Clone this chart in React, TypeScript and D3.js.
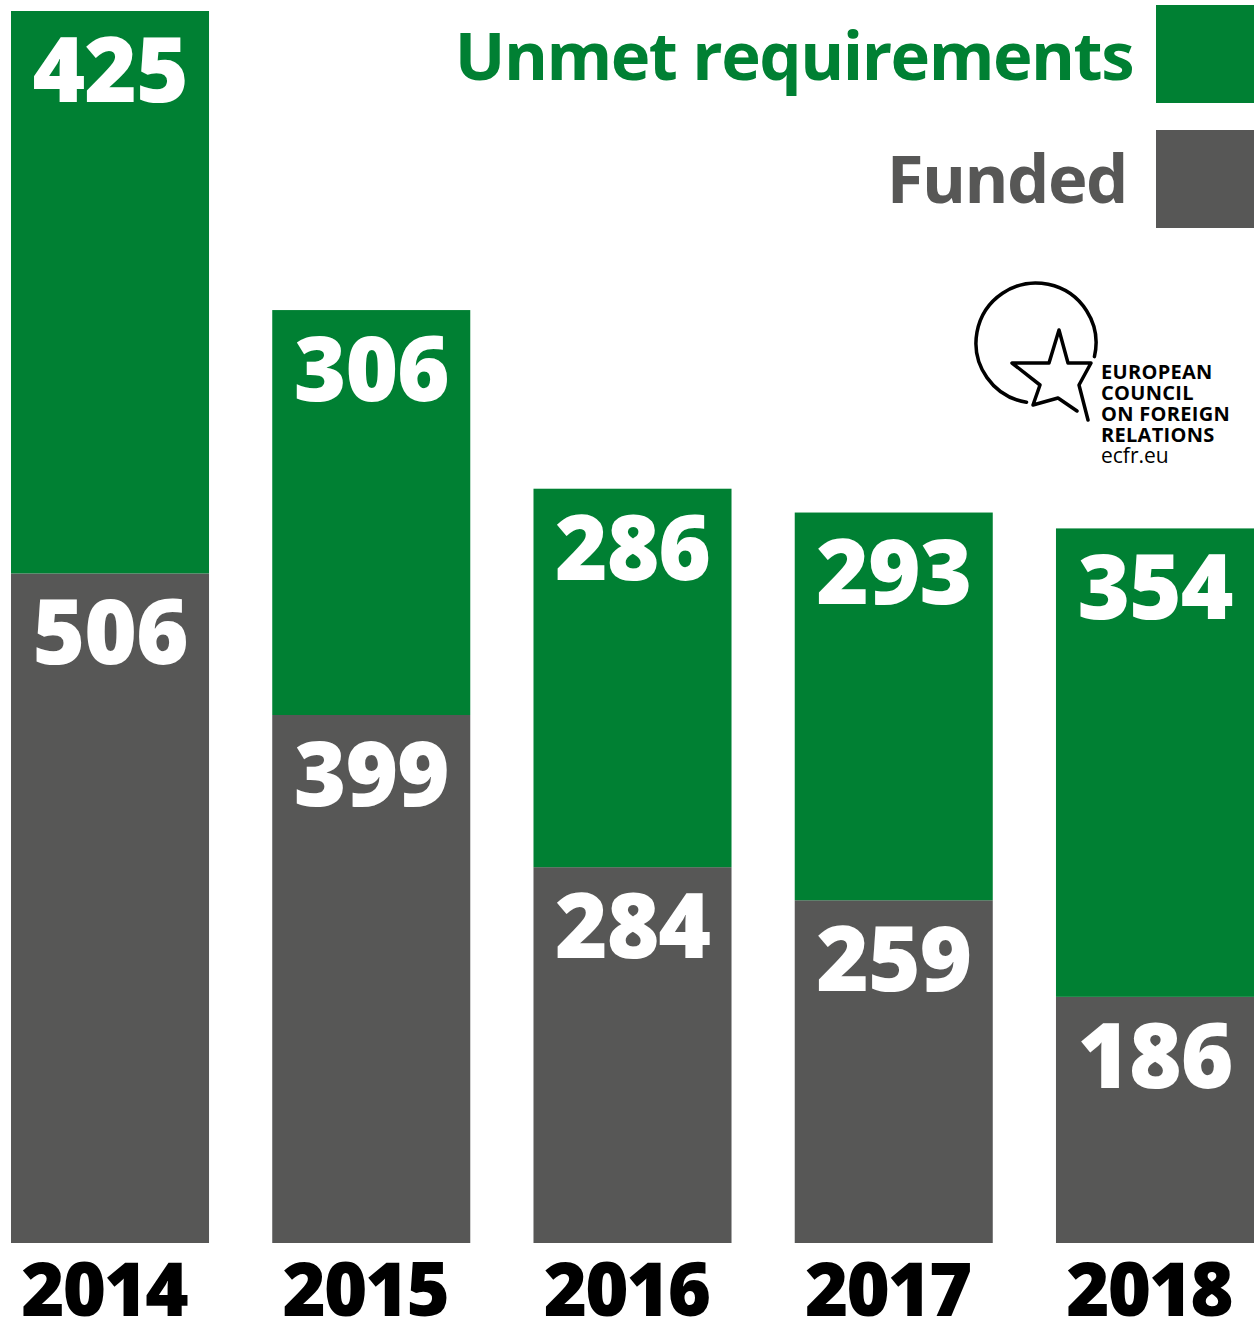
import * as d3 from 'd3'

const YEARS = ['2014', '2015', '2016', '2017', '2018']
const FUNDED = [506, 399, 284, 259, 186]
const UNMET = [425, 306, 286, 293, 354]
const SERIES = ['Unmet requirements', 'Funded']

const W = 1257
const H = 1323
const GREEN = '#008033'
const GREY = '#575756'
const FONT = '"Open Sans", "DejaVu Sans", sans-serif'
const LOGO_LINES = ['EUROPEAN', 'COUNCIL', 'ON FOREIGN', 'RELATIONS']

export default function App() {
  const x = d3.scaleBand().domain(YEARS).range([11, 1254]).paddingInner(0.242).paddingOuter(0)
  const y = d3.scaleLinear().domain([0, 931]).range([1243, 11])

  const rows = YEARS.map((year, i) => ({ year, funded: FUNDED[i], unmet: UNMET[i] }))
  const stacked = d3.stack<(typeof rows)[number]>().keys(['funded', 'unmet'])(rows)
  const colors = [GREY, GREEN]

  const bw = x.bandwidth()

  return (
    <svg
      width={W}
      height={H}
      style={{ position: 'absolute', left: 0, top: 0, background: '#fff' }}
      fontFamily={FONT}
    >
      {stacked.map((layer, li) => (
        <g key={layer.key}>
          {layer.map((d) => {
            const top = y(d[1])
            return (
              <g key={d.data.year}>
                <rect
                  x={x(d.data.year)}
                  y={top}
                  width={bw}
                  height={y(d[0]) - top}
                  fill={colors[li]}
                />
                <text
                  x={(x(d.data.year) ?? 0) + bw / 2}
                  y={top + 91}
                  textAnchor="middle"
                  fill="#fff"
                  fontSize={90}
                  fontWeight={800}
                  letterSpacing={-1}
                >
                  {d[1] - d[0]}
                </text>
              </g>
            )
          })}
        </g>
      ))}

      {YEARS.map((yr) => (
        <text
          key={yr}
          x={(x(yr) ?? 0) + bw / 2 - 6}
          y={1316}
          textAnchor="middle"
          fill="#000"
          fontSize={74}
          fontWeight={800}
          letterSpacing={-2}
        >
          {yr}
        </text>
      ))}

      {/* legend */}
      {SERIES.map((s, i) => (
        <g key={s}>
          <rect x={1156} y={5 + i * 125} width={98} height={98} fill={i === 0 ? GREEN : GREY} />
          <text
            x={i === 0 ? 1133 : 1127}
            y={80 + i * 123}
            textAnchor="end"
            fill={i === 0 ? GREEN : GREY}
            fontSize={67}
            fontWeight={700}
            letterSpacing={-1.5}
          >
            {s}
          </text>
        </g>
      ))}

      {/* ECFR logo */}
      <g fill="none" stroke="#000" strokeWidth={3.5} strokeLinejoin="round" strokeLinecap="round">
        <path
          d={d3.arc()({ innerRadius: 60, outerRadius: 60, startAngle: 3.3, endAngle: 2 * Math.PI + 1.8 }) ?? ''}
          transform="translate(1036,343)"
        />
        <path d="M1077,411 L1058,398 L1033,405 L1040,385 L1012,363 L1049,363 L1059,330 L1068,363 L1091,363 L1079,385 L1088,420" />
      </g>
      {LOGO_LINES.map((l, i) => (
        <text key={l} x={1101} y={379 + i * 21} fontSize={20} fontWeight={700} letterSpacing={0.3} fill="#000">
          {l}
        </text>
      ))}
      <text x={1101} y={463} fontSize={21} fill="#000">
        ecfr.eu
      </text>
    </svg>
  )
}
